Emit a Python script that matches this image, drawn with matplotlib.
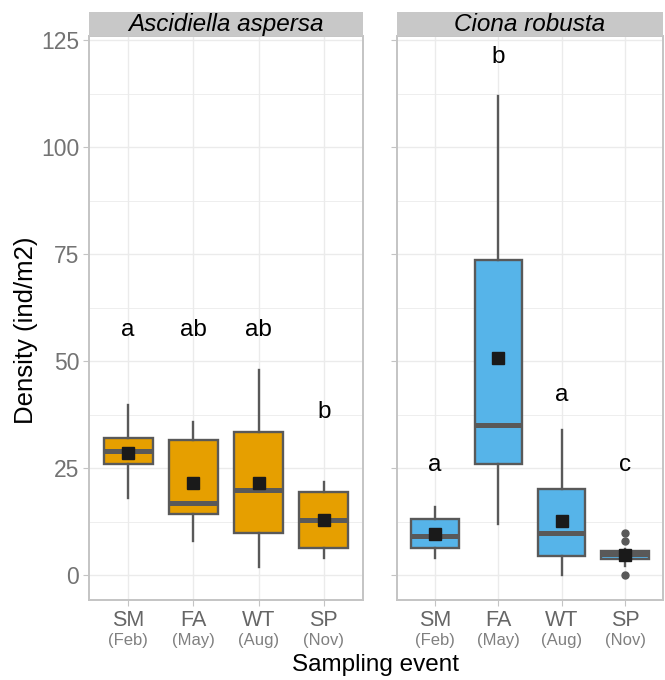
import matplotlib
matplotlib.use("Agg")
from matplotlib import pyplot as plt
import numpy as np

plt.rcParams['font.family'] = ['Liberation Sans', 'DejaVu Sans']

# data
events = ['SM', 'FA', 'WT', 'SP']
months = ['(Feb)', '(May)', '(Aug)', '(Nov)']
species = ['Ascidiella aspersa', 'Ciona robusta']
colors = ['#E69F00', '#56B4E9']

# Ascidiella aspersa
asp_wlo = [18, 7.9, 1.9, 4.0]
asp_q1 = [26, 14.3, 9.7, 6.4]
asp_med = [29, 16.9, 19.9, 12.9]
asp_q3 = [32, 31.5, 33.4, 19.5]
asp_whi = [39.8, 35.7, 47.9, 21.8]
asp_mean = [28.4, 21.6, 21.6, 12.8]
asp_fliers = [[], [], [], []]
asp_letters = ['a', 'ab', 'ab', 'b']
asp_letter_y = [57.3, 57.3, 57.3, 38.0]

# Ciona robusta
cio_wlo = [4.0, 12.0, 0.0, 2.2]
cio_q1 = [6.4, 25.9, 4.4, 3.8]
cio_med = [9.1, 35.0, 9.9, 4.8]
cio_q3 = [13.0, 73.6, 20.0, 5.5]
cio_whi = [15.8, 111.9, 34.0, 6.0]
cio_mean = [9.6, 50.8, 12.6, 4.7]
cio_fliers = [[], [], [], [9.9, 7.9, 0.0]]
cio_letters = ['a', 'b', 'a', 'c']
cio_letter_y = [25.6, 121.0, 42.1, 25.6]

panels = [
    (asp_wlo, asp_q1, asp_med, asp_q3, asp_whi, asp_mean, asp_fliers, asp_letters, asp_letter_y),
    (cio_wlo, cio_q1, cio_med, cio_q3, cio_whi, cio_mean, cio_fliers, cio_letters, cio_letter_y),
]

fig = plt.figure(figsize=(6.65, 6.8), dpi=100)
W, H = 665, 680
edge = '#595959'
border = '#C4C4C4'
grid = '#EBEBEB'

axes = []
for i, (x0, x1) in enumerate([(89, 363), (397, 663)]):
    ax = fig.add_axes([x0 / W, 1 - 600 / H, (x1 - x0) / W, (600 - 36) / H])
    axes.append(ax)
    wlo, q1, med, q3, whi, mean, fliers, letters, ly = panels[i]
    pos = np.arange(1, len(events) + 1)
    stats = []
    for k in range(len(events)):
        stats.append(dict(whislo=wlo[k], q1=q1[k], med=med[k], q3=q3[k], whishi=whi[k], fliers=fliers[k]))
    ax.bxp(stats, positions=pos, widths=0.75, patch_artist=True, showcaps=False,
           boxprops=dict(facecolor=colors[i], edgecolor=edge, linewidth=1.7),
           medianprops=dict(color=edge, linewidth=3.6, solid_capstyle='butt'),
           whiskerprops=dict(color=edge, linewidth=1.7),
           flierprops=dict(marker='o', markerfacecolor=edge, markeredgecolor=edge, markersize=5),
           zorder=3)
    ax.plot(pos, mean, linestyle='none', marker='s', color='#1A1A1A', markersize=8, zorder=4)
    for k in range(len(events)):
        ax.text(pos[k], ly[k], letters[k], ha='center', va='center', fontsize=17.5, color='black')

    ax.set_xlim(0.4, 4.6)
    ax.set_ylim(-5.85, 126)
    ax.set_yticks([0, 25, 50, 75, 100, 125])
    ax.set_yticks([12.5, 37.5, 62.5, 87.5, 112.5], minor=True)
    ax.set_xticks(pos)
    ax.set_xticklabels(events, fontsize=15.5, color='#666666')
    for k in range(len(events)):
        ax.annotate(months[k], xy=(pos[k], 0), xycoords=('data', 'axes fraction'),
                    xytext=(0, -40), textcoords='offset pixels', ha='center', va='center',
                    fontsize=12, color='#808080')
    ax.grid(True, which='major', color=grid, linewidth=1.0, zorder=0)
    ax.grid(True, which='minor', axis='y', color=grid, linewidth=0.6, zorder=0)
    ax.set_axisbelow(True)
    ax.tick_params(axis='both', which='major', length=4, color=border, width=0.8, pad=3)
    ax.tick_params(axis='y', labelsize=16.5, labelcolor='#737373')
    ax.tick_params(axis='both', which='minor', length=0)
    for s in ax.spines.values():
        s.set_color(border)
        s.set_linewidth(1.4)
    if i == 1:
        ax.tick_params(axis='y', labelleft=False)

    # facet strip
    strip = fig.add_axes([x0 / W, 1 - 36 / H, (x1 - x0) / W, 24 / H])
    strip.set_facecolor('#C8C8C8')
    strip.set_xticks([])
    strip.set_yticks([])
    for s in strip.spines.values():
        s.set_visible(False)
    strip.text(0.5, 0.47, species[i], ha='center', va='center', fontsize=17.5,
               style='italic', color='black', transform=strip.transAxes)

axes[0].set_ylabel('Density (ind/m2)', fontsize=18.5, color='black')
axes[0].yaxis.set_label_coords((38 - 89) / 274, (600 - 330) / 564)
fig.text((89 + 663) / 2 / W, 1 - 671 / H, 'Sampling event', ha='center', va='baseline', fontsize=17.5)

fig.savefig('out.png', dpi=100, facecolor='white')
